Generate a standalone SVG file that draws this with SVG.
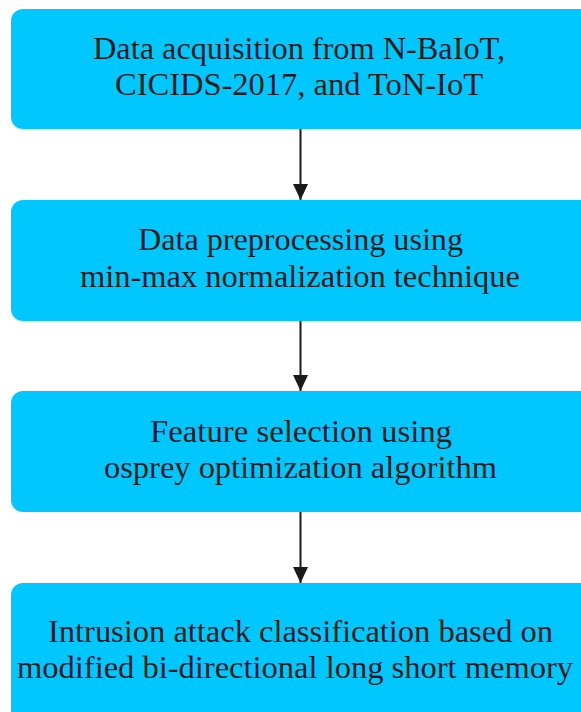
<svg xmlns="http://www.w3.org/2000/svg" width="581" height="712" viewBox="0 0 581 712">
<style>
.box{fill:#00C8FF;}
.t{font-family:"Liberation Serif","Times New Roman",serif;font-size:31px;fill:#1a1a1a;text-anchor:middle;}
.c{stroke:#1a1a1a;stroke-width:2;fill:none;}
</style>
<defs>
<marker id="arr" markerWidth="16" markerHeight="15" refX="16" refY="7.5" orient="auto" markerUnits="userSpaceOnUse" viewBox="0 0 16 15">
<path d="M0,0 L16,7.5 L0,15 Z" fill="#1a1a1a"/>
</marker>
</defs>
<rect width="581" height="712" fill="#ffffff"/>
<g id="connectors">
<line class="c" x1="300.5" y1="129" x2="300.5" y2="200" marker-end="url(#arr)"/>
<line class="c" x1="300.5" y1="321" x2="300.5" y2="391" marker-end="url(#arr)"/>
<line class="c" x1="300.5" y1="512" x2="300.5" y2="583" marker-end="url(#arr)"/>
</g>
<g id="node1">
<rect class="box" x="11" y="9" width="600" height="120" rx="12"/>
<text class="t" x="299" y="59" textLength="412" lengthAdjust="spacingAndGlyphs">Data acquisition from N-BaIoT,</text>
<text class="t" x="299" y="95" textLength="368" lengthAdjust="spacingAndGlyphs">CICIDS-2017, and ToN-IoT</text>
</g>
<g id="node2">
<rect class="box" x="11" y="200" width="600" height="121" rx="12"/>
<text class="t" x="300.5" y="250" textLength="325" lengthAdjust="spacingAndGlyphs">Data preprocessing using</text>
<text class="t" x="300" y="287" textLength="440" lengthAdjust="spacingAndGlyphs">min-max normalization technique</text>
</g>
<g id="node3">
<rect class="box" x="11" y="391" width="600" height="121" rx="12"/>
<text class="t" x="301" y="442" textLength="302" lengthAdjust="spacingAndGlyphs">Feature selection using</text>
<text class="t" x="300.5" y="478" textLength="393" lengthAdjust="spacingAndGlyphs">osprey optimization algorithm</text>
</g>
<g id="node4">
<rect class="box" x="11" y="583" width="600" height="160" rx="12"/>
<text class="t" x="300.5" y="642" textLength="505" lengthAdjust="spacingAndGlyphs">Intrusion attack classification based on</text>
<text class="t" x="295" y="678" textLength="556" lengthAdjust="spacingAndGlyphs">modified bi-directional long short memory</text>
</g>
</svg>
